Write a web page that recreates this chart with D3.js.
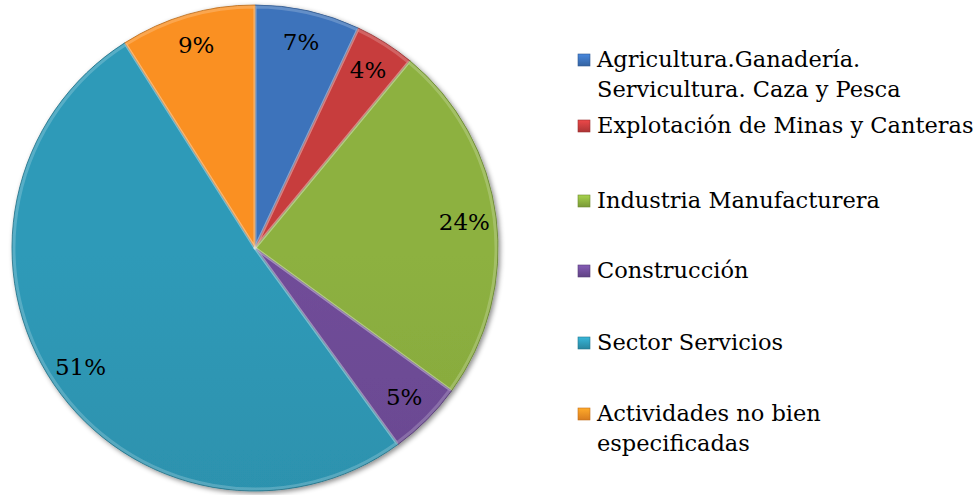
<!DOCTYPE html>
<html>
<head>
<meta charset="utf-8">
<script src="https://cdn.jsdelivr.net/npm/d3@7"></script>
<style>
  html, body { margin: 0; padding: 0; background: #fff; }
  svg { display: block; }
  text { font-family: "DejaVu Serif", serif; fill: #000; }
</style>
</head>
<body>
<svg id="chart" width="976" height="495"></svg>
<script>
// ---- data ----
const categories = [
  ["Agricultura.Ganadería.", "Servicultura. Caza y Pesca"],
  ["Explotación de Minas y Canteras"],
  ["Industria Manufacturera"],
  ["Construcción"],
  ["Sector Servicios"],
  ["Actividades no bien", "especificadas"]
];
const values = [7, 4, 24, 5, 51, 9];
const labels = ["7%", "4%", "24%", "5%", "51%", "9%"];
const colors = ["#3a6eb3", "#bf3a3b", "#87aa3d", "#6b4a93", "#2d94b0", "#f08a22"];

// ---- layout ----
const W = 976, H = 495;
const cx = 255, cy = 248, R = 243, labelR = 211;
const svg = d3.select("#chart");
const defs = svg.append("defs");

const f = defs.append("filter").attr("id", "shadow")
  .attr("x", "-10%").attr("y", "-10%").attr("width", "120%").attr("height", "120%");
f.append("feDropShadow").attr("dx", 2).attr("dy", 2).attr("stdDeviation", 2.5)
  .attr("flood-color", "#000").attr("flood-opacity", 0.45);

colors.forEach((c, i) => {
  const g = defs.append("linearGradient").attr("id", "g" + i)
    .attr("gradientUnits", "userSpaceOnUse")
    .attr("x1", 0).attr("y1", cy - R).attr("x2", 0).attr("y2", cy + R);
  g.append("stop").attr("offset", "0%").attr("stop-color", d3.color(c).brighter(0.12));
  g.append("stop").attr("offset", "100%").attr("stop-color", d3.color(c).darker(0.2));
  const lg = defs.append("linearGradient").attr("id", "lg" + i)
    .attr("x1", 0).attr("y1", 0).attr("x2", 0).attr("y2", 1);
  lg.append("stop").attr("offset", "0%").attr("stop-color", d3.color(c).brighter(0.6));
  lg.append("stop").attr("offset", "100%").attr("stop-color", d3.color(c).darker(0.3));
});

const pie = d3.pie().value(d => d).sort(null);
const arcs = pie(values);
const arc = d3.arc().innerRadius(0).outerRadius(R);
const bevel = d3.arc().innerRadius(0).outerRadius(R - 2);
const labelArc = d3.arc().innerRadius(labelR).outerRadius(labelR);

const gPie = svg.append("g").attr("transform", `translate(${cx},${cy})`);
gPie.append("g").attr("filter", "url(#shadow)")
  .selectAll("path").data(arcs).join("path")
  .attr("d", arc)
  .attr("fill", (d, i) => `url(#g${i})`)
  .attr("stroke", (d, i) => d3.color(colors[i]).darker(0.8))
  .attr("stroke-width", 0.8);
gPie.append("g")
  .selectAll("path").data(arcs).join("path")
  .attr("d", bevel)
  .attr("fill", "none")
  .attr("stroke", "rgba(255,255,255,0.2)")
  .attr("stroke-width", 3)
  .attr("stroke-linejoin", "round");

gPie.append("g").selectAll("text").data(arcs).join("text")
  .attr("transform", d => `translate(${labelArc.centroid(d)})`)
  .attr("text-anchor", "middle")
  .attr("dominant-baseline", "central")
  .style("font-size", "23px")
  .text((d, i) => labels[i]);

// ---- legend ----
const rowY = [67, 133, 208, 278, 350, 421];   // first-line baselines
const lineH = 30;
const legend = svg.append("g");
categories.forEach((lines, i) => {
  const y = rowY[i];
  legend.append("rect")
    .attr("x", 578).attr("y", y - 13).attr("width", 12).attr("height", 12)
    .attr("fill", `url(#lg${i})`)
    .attr("stroke", d3.color(colors[i]).darker(0.6)).attr("stroke-width", 0.6);
  const t = legend.append("text").attr("x", 597).attr("y", y).style("font-size", "22.5px");
  lines.forEach((ln, j) => {
    t.append("tspan").attr("x", 597).attr("y", y + j * lineH).text(ln);
  });
});
</script>
</body>
</html>
